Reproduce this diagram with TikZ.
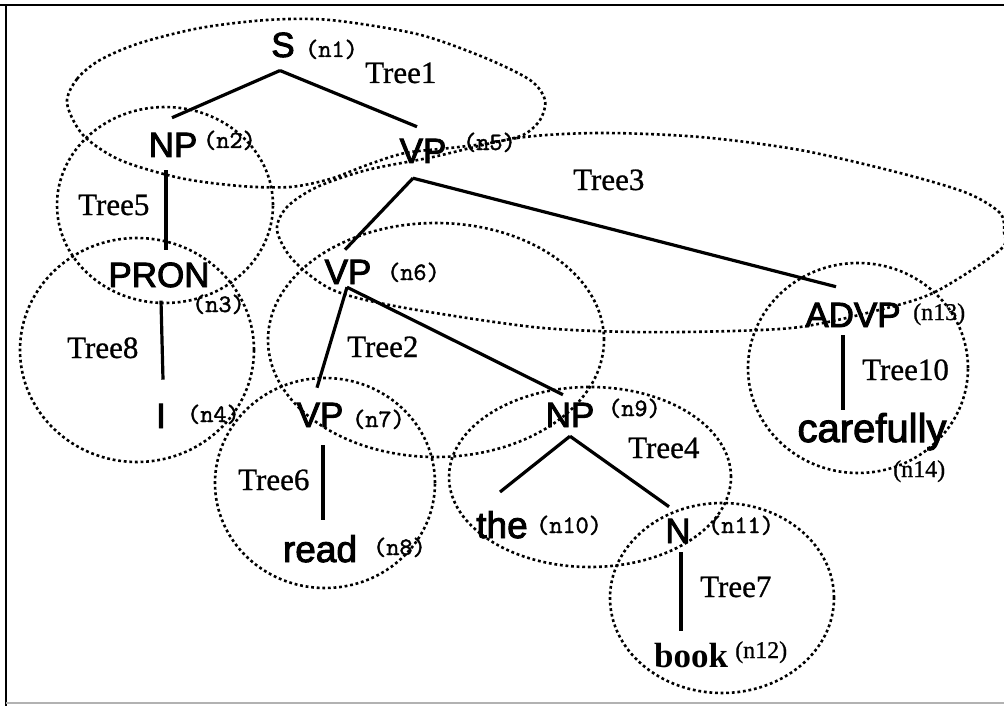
\documentclass[tikz,border=0pt]{standalone}
\usepackage{fontspec}
\setmainfont{Liberation Serif}
\newfontfamily\catfont[FakeBold=2.6]{Liberation Sans}
\newfontfamily\labfont[FakeBold=0.8]{Liberation Serif}
\newfontfamily\idfont[FakeBold=1.6]{lmmono10-regular.otf}
\begin{document}
\begin{tikzpicture}[x=1pt,y=-1pt,
  cat/.style={font=\catfont\fontsize{35}{40}\selectfont, anchor=base, inner sep=0pt},
  word/.style={font=\catfont\fontsize{37}{42}\selectfont, anchor=base, inner sep=0pt},
  nid/.style={font=\idfont\fontsize{25}{28}\selectfont, anchor=base west, inner sep=0pt},
  sid/.style={font=\labfont\fontsize{24}{28}\selectfont, anchor=base west, inner sep=0pt},
  tlab/.style={font=\labfont\fontsize{31}{34}\selectfont, anchor=base west, inner sep=0pt},
  edge/.style={line width=3.2pt},
  boundary/.style={line width=2.6pt, dash pattern=on 2.8pt off 2.8pt}]
\useasboundingbox (0,0) rectangle (1004,706);
\fill[white] (0,0) rectangle (1004,706);
% frame
\draw[line width=2pt] (0,5) -- (1004,5);
\draw[line width=2pt] (6,5) -- (6,706);
\draw[line width=1.2pt, black!30] (6,703) -- (1004,703);

% subtree boundaries
\draw[boundary] plot[smooth cycle] coordinates {(67,103) (77,79) (100,60) (140,43) (200,28) (267,20) (330,20) (417,34) (483,57) (530,80) (545,100) (540,120) (523,135) (490,143) (450,148) (405,153) (367,165) (330,179) (290,187) (240,186) (180,178) (120,160) (83,135)};
\draw[boundary] plot[smooth cycle] coordinates {(433,157) (517,138) (600,133) (700,137) (800,150) (900,173) (967,193) (1000,213) (1004,232) (1000,250) (933,293) (867,313) (800,327) (733,331) (633,332) (533,327) (400,307) (333,290) (293,260) (277,230) (287,207) (317,187) (367,170)};
\draw[boundary] (165,205) ellipse [x radius=108pt, y radius=98pt];
\draw[boundary] (137,350) ellipse [x radius=117pt, y radius=112pt];
\draw[boundary] (436,340) ellipse [x radius=168pt, y radius=117pt];
\draw[boundary] (325,483) ellipse [x radius=110pt, y radius=105pt];
\draw[boundary] (590,477) ellipse [x radius=141pt, y radius=90pt];
\draw[boundary] (722,598) ellipse [x radius=112pt, y radius=95pt];
\draw[boundary] (858,368) ellipse [x radius=110pt, y radius=105pt];

% tree labels
\node[tlab] (t1) at (365,83) {Tree1};
\node[tlab] (t5) at (78,215) {Tree5};
\node[tlab] (t8) at (67,358) {Tree8};
\node[tlab] (t3) at (573,190) {Tree3};
\node[tlab] (t2) at (347,357) {Tree2};
\node[tlab] (t6) at (238,490) {Tree6};
\node[tlab] (t4) at (628,458) {Tree4};
\node[tlab] (t7) at (700,597) {Tree7};
\node[tlab] (t10) at (862,380) {Tree10};

% categories and words
\node[cat] (S) at (283,57) {S};
\node[cat] (NPa) at (173,157) {NP};
\node[cat] (VPa) at (423,163) {VP};
\node[cat] (PRON) at (159,287) {PRON};
\node[cat] (I) at (161,428) {I};
\node[cat] (VPb) at (348,284) {VP};
\node[cat] (VPc) at (320,427) {VP};
\node[cat] (NPb) at (570,427) {NP};
\node[cat] (ADVP) at (853,327) {ADVP};
\node[word] (read) at (320,562) {read};
\node[word] (the) at (502,538) {the};
\node[cat] (N) at (678,543) {N};
\node[anchor=base, inner sep=0pt, font=\bfseries\fontsize{35}{40}\selectfont] (book) at (691,667) {book};
\node[word, font=\catfont\fontsize{40}{44}\selectfont] (carefully) at (872,442) {carefully};

% node identifiers
\node[nid] (i1) at (305,57) {(n1)};
\node[nid] (i2) at (203,148) {(n2)};
\node[nid] (i5) at (463,150) {(n5)};
\node[nid] (i3) at (192,312) {(n3)};
\node[nid] (i4) at (187,422) {(n4)};
\node[nid] (i6) at (387,280) {(n6)};
\node[nid] (i7) at (352,427) {(n7)};
\node[nid] (i9) at (608,416) {(n9)};
\node[nid] (i8) at (373,555) {(n8)};
\node[nid] (i10) at (536,533) {(n10)};
\node[nid] (i11) at (708,533) {(n11)};
\node[sid] (i12) at (735,658) {(n12)};
\node[sid] (i13) at (913,320) {(n13)};
\node[sid] (i14) at (893,477) {(n14)};

% branches
\draw[edge] ([shift={(-3pt,-13pt)}]S.south) -- ([shift={(-1pt,15pt)}]NPa.north);
\draw[edge] ([shift={(-3pt,-13pt)}]S.south) -- ([shift={(-6pt,12pt)}]VPa.north);
\draw[edge] ([shift={(-7pt,-13pt)}]NPa.south) -- ([shift={(7pt,12pt)}]PRON.north);
\draw[edge] ([shift={(2pt,-13pt)}]PRON.south) -- ([shift={(2pt,24pt)}]I.north);
\draw[edge] ([shift={(-10pt,-15pt)}]VPa.south) -- ([shift={(-3pt,10pt)}]VPb.north);
\draw[edge] ([shift={(-10pt,-15pt)}]VPa.south) -- ([shift={(-17pt,16pt)}]ADVP.north);
\draw[edge] ([shift={(-1pt,-3pt)}]VPb.south) -- ([shift={(-3pt,15pt)}]VPc.north);
\draw[edge] ([shift={(-1pt,-3pt)}]VPb.south) -- ([shift={(-7pt,8pt)}]NPb.north);
\draw[edge] ([shift={(3pt,-18pt)}]VPc.south) -- ([shift={(3pt,15pt)}]read.north);
\draw[edge] ([shift={(0pt,-9pt)}]NPb.south) -- ([shift={(-2pt,19pt)}]the.north);
\draw[edge] ([shift={(0pt,-9pt)}]NPb.south) -- ([shift={(-9pt,12pt)}]N.north);
\draw[edge] ([shift={(3pt,-9pt)}]N.south) -- ([shift={(-10pt,12pt)}]book.north);
\draw[edge] ([shift={(-10pt,-8pt)}]ADVP.south) -- ([shift={(-29pt,3pt)}]carefully.north);
\end{tikzpicture}
\end{document}
